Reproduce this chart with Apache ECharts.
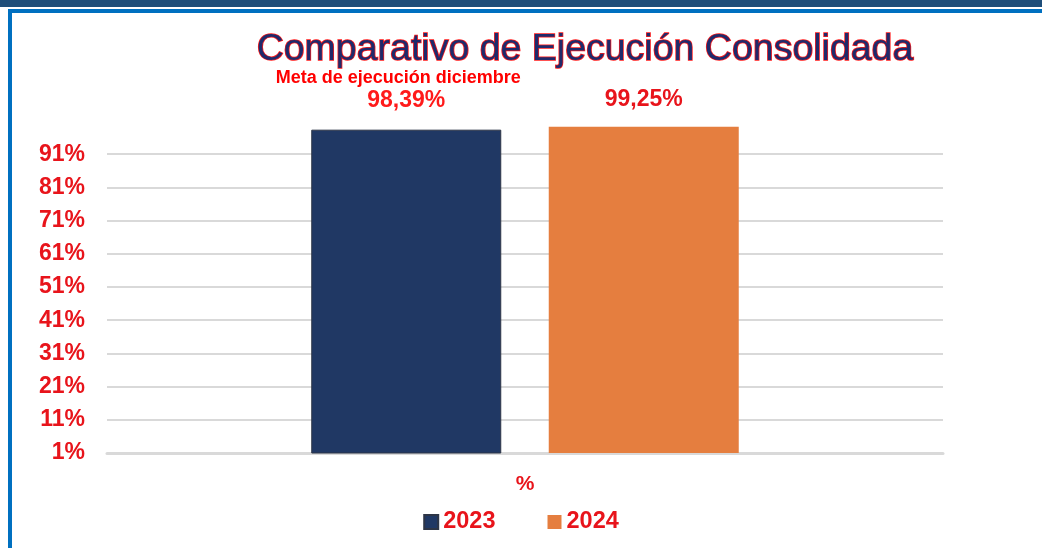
<!DOCTYPE html>
<html>
<head>
<meta charset="utf-8">
<script src="https://cdn.jsdelivr.net/npm/echarts@6/dist/echarts.min.js"></script>
<style>
  html, body { margin: 0; padding: 0; background: #fff; }
  #main { width: 1042px; height: 548px; }
</style>
</head>
<body>
<div id="main"></div>
<script>
// chart data
var categories = ["%"];
var years = ["2023", "2024"];
var values2023 = [98.39];
var values2024 = [99.25];
var gridTicks = [1, 11, 21, 31, 41, 51, 61, 71, 81, 91];
var metaLabel = "Meta de ejecución diciembre";

function pct(v) {
  return v.toFixed(2).replace(".", ",") + "%";
}

var chartDom = document.getElementById("main");
var myChart = echarts.init(chartDom);
var option = {
  backgroundColor: "#fff",
  animation: false,
  title: {
    text: "Comparativo de Ejecución Consolidada",
    left: 580,
    top: 26,
    textAlign: "center",
    textStyle: {
      fontFamily: "Liberation Sans",
      fontSize: 37.5,
      fontWeight: "normal",
      color: "#1f2a6b",
      textBorderColor: "#ff1a1a",
      textBorderWidth: 1.5
    }
  },
  graphic: [
    { type: "rect", shape: { x: 0, y: 0, width: 1042, height: 7 }, style: { fill: "#1f4e79" } },
    { type: "rect", shape: { x: 8, y: 9, width: 1034, height: 4 }, style: { fill: "#0070c0" } },
    { type: "rect", shape: { x: 8, y: 9, width: 4, height: 539 }, style: { fill: "#0070c0" } }
  ],
  legend: {
    data: years,
    bottom: 9,
    left: "center",
    itemWidth: 14,
    itemHeight: 14,
    itemGap: 52,
    icon: "rect",
    textStyle: {
      fontFamily: "Liberation Sans",
      fontSize: 23.5,
      fontWeight: "bold",
      color: "#e8141b"
    }
  },
  grid: {
    left: 107,
    right: 99,
    top: 121,
    bottom: 95
  },
  xAxis: {
    type: "category",
    data: categories,
    axisTick: { show: false },
    axisLine: { lineStyle: { color: "#d9d9d9", width: 3 } },
    axisLabel: {
      margin: 21,
      fontFamily: "Liberation Sans",
      fontSize: 21,
      fontWeight: "bold",
      color: "#e8141b"
    }
  },
  yAxis: {
    type: "value",
    min: 1,
    max: 101,
    interval: 10,
    axisLine: { show: false },
    axisTick: { show: false },
    splitLine: { show: false },
    axisLabel: {
      showMaxLabel: false,
      margin: 22,
      fontFamily: "Liberation Sans",
      fontSize: 23,
      fontWeight: "bold",
      color: "#e8141b",
      formatter: function (v) { return v + "%"; }
    }
  },
  series: [
    {
      name: years[0],
      type: "bar",
      data: values2023,
      barWidth: 190,
      barGap: "25%",
      itemStyle: { color: "#203864", borderColor: "#2d3546", borderWidth: 1 },
      label: {
        show: true,
        position: "top",
        distance: 17,
        formatter: function (p) {
          return "{m|" + metaLabel + "}\n{v|" + pct(p.value) + "}";
        },
        rich: {
          m: {
            fontFamily: "Liberation Sans",
            fontSize: 18,
            fontWeight: "bold",
            color: "#ff0000",
            lineHeight: 22,
            padding: [0, 16, 0, 0]
          },
          v: {
            fontFamily: "Liberation Sans",
            fontSize: 23,
            fontWeight: "bold",
            color: "#ff1a1a",
            lineHeight: 24
          }
        }
      },
      markLine: {
        silent: true,
        symbol: "none",
        label: { show: false },
        lineStyle: { color: "#d9d9d9", width: 2, type: "solid" },
        data: gridTicks.slice(1).map(function (t) { return { yAxis: t }; }),
        z: 0
      }
    },
    {
      name: years[1],
      type: "bar",
      data: values2024,
      barWidth: 190,
      itemStyle: { color: "#e57e3f" },
      label: {
        show: true,
        position: "top",
        distance: 16,
        fontFamily: "Liberation Sans",
        fontSize: 23,
        fontWeight: "bold",
        color: "#e8141b",
        formatter: function (p) { return pct(p.value); }
      }
    }
  ]
};
myChart.setOption(option);
</script>
</body>
</html>
